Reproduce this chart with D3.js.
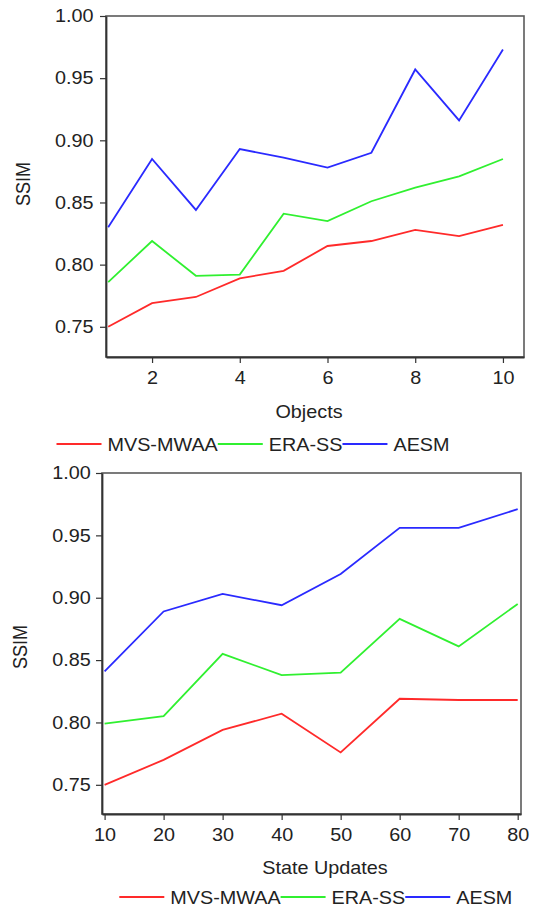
<!DOCTYPE html>
<html>
<head>
<meta charset="utf-8">
<script src="https://cdn.jsdelivr.net/npm/d3@7"></script>
<style>
  html, body { margin: 0; padding: 0; background: #fff; }
  text { font-family: "Liberation Sans", Arial, sans-serif; fill: #222; }
</style>
</head>
<body>
<div id="chart"></div>
<script>
// data
var seriesNames = ["MVS-MWAA", "ERA-SS", "AESM"];
var seriesColors = ["#ff2a2a", "#30f030", "#2a2aff"];

var objects = [1, 2, 3, 4, 5, 6, 7, 8, 9, 10];
var objMvs = [0.750, 0.769, 0.774, 0.789, 0.795, 0.815, 0.819, 0.828, 0.823, 0.832];
var objEra = [0.786, 0.819, 0.791, 0.792, 0.841, 0.835, 0.851, 0.862, 0.871, 0.885];
var objAesm = [0.830, 0.885, 0.844, 0.893, 0.886, 0.878, 0.890, 0.957, 0.916, 0.973];
var objTicks = [2, 4, 6, 8, 10];

var updates = [10, 20, 30, 40, 50, 60, 70, 80];
var updMvs = [0.750, 0.770, 0.794, 0.807, 0.776, 0.819, 0.818, 0.818];
var updEra = [0.799, 0.805, 0.855, 0.838, 0.840, 0.883, 0.861, 0.895];
var updAesm = [0.841, 0.889, 0.903, 0.894, 0.919, 0.956, 0.956, 0.971];
var updTicks = [10, 20, 30, 40, 50, 60, 70, 80];

var yTicks = [0.75, 0.80, 0.85, 0.90, 0.95, 1.00];

var W = 535, H = 909;
var stretch = 1.1; // text in the picture is a bit wider than tall

var svg = d3.select("#chart")
    .append("svg")
    .attr("width", W)
    .attr("height", H);

// layout of the two panels
var panels = [
    {
        left: 106, right: 524, top: 16, bottom: 357,
        xDomain: [0.95, 10.48], yDomain: [0.7257, 1.0],
        xs: objects, series: [objMvs, objEra, objAesm], xTicks: objTicks,
        xTitle: "Objects", xTitleX: 309, xTitleY: 418,
        yTitleX: 30, yTitleY: 184, labelX: -11.3,
        legendX: 56.5, legendY: 444
    },
    {
        left: 102, right: 521, top: 473, bottom: 814,
        xDomain: [9.56, 80.56], yDomain: [0.7266, 1.0],
        xs: updates, series: [updMvs, updEra, updAesm], xTicks: updTicks,
        xTitle: "State Updates", xTitleX: 325, xTitleY: 874,
        yTitleX: 27, yTitleY: 647, labelX: -10.2,
        legendX: 119.3, legendY: 897
    }
];

panels.forEach(function (p) {
    var x = d3.scaleLinear().domain(p.xDomain).range([p.left, p.right]);
    var y = d3.scaleLinear().domain(p.yDomain).range([p.bottom, p.top]);

    // frame
    svg.append("rect")
        .attr("x", p.left)
        .attr("y", p.top)
        .attr("width", p.right - p.left)
        .attr("height", p.bottom - p.top)
        .attr("fill", "none")
        .attr("stroke", "#5a5a5a")
        .attr("stroke-width", 1.6);

    // Y axis
    var gy = svg.append("g")
        .attr("transform", "translate(" + p.left + ",0)")
        .call(d3.axisLeft(y).tickValues(yTicks).tickFormat(d3.format(".2f"))
            .tickSize(6).tickSizeOuter(0));
    gy.select(".domain").attr("stroke", "#333").attr("stroke-width", 1.8);
    gy.selectAll(".tick line").attr("stroke", "#333").attr("stroke-width", 1.2);
    gy.selectAll("text")
        .attr("x", p.labelX)
        .attr("transform", "scale(" + stretch + ",1)")
        .style("font-size", "18px")
        .style("font-family", "'Liberation Sans', Arial, sans-serif")
        .attr("fill", "#222");

    // X axis
    var gx = svg.append("g")
        .attr("transform", "translate(0," + p.bottom + ")")
        .call(d3.axisBottom(x).tickValues(p.xTicks).tickFormat(d3.format("d"))
            .tickSize(6).tickSizeOuter(0).tickPadding(8));
    gx.select(".domain").attr("stroke", "#333").attr("stroke-width", 1.8);
    gx.selectAll(".tick line").attr("stroke", "#333").attr("stroke-width", 1.2);
    gx.selectAll("text")
        .attr("transform", "scale(" + stretch + ",1)")
        .style("font-size", "18px")
        .style("font-family", "'Liberation Sans', Arial, sans-serif")
        .attr("fill", "#222");

    // axis titles
    svg.append("text")
        .attr("text-anchor", "middle")
        .attr("transform", "translate(" + p.xTitleX + "," + p.xTitleY + ") scale(" + stretch + ",1)")
        .style("font-size", "18px")
        .text(p.xTitle);

    svg.append("text")
        .attr("text-anchor", "middle")
        .attr("transform", "translate(" + p.yTitleX + "," + p.yTitleY + ") rotate(-90) scale(1," + stretch + ")")
        .style("font-size", "18px")
        .text("SSIM");

    // lines
    var line = d3.line()
        .x(function (d) { return x(d[0]); })
        .y(function (d) { return y(d[1]); });

    p.series.forEach(function (vals, i) {
        var pts = p.xs.map(function (v, j) { return [v, vals[j]]; });
        svg.append("path")
            .datum(pts)
            .attr("d", line)
            .attr("fill", "none")
            .attr("stroke", seriesColors[i])
            .attr("stroke-width", 1.8)
            .attr("stroke-linejoin", "miter");
    });

    // legend: line, label, next line right after the label
    var cursor = p.legendX;
    seriesNames.forEach(function (name, i) {
        svg.append("line")
            .attr("x1", cursor)
            .attr("x2", cursor + 45)
            .attr("y1", p.legendY)
            .attr("y2", p.legendY)
            .attr("stroke", seriesColors[i])
            .attr("stroke-width", 1.8);
        var tx = cursor + 51;
        var t = svg.append("text")
            .attr("transform", "translate(" + tx + "," + (p.legendY + 6.5) + ") scale(" + stretch + ",1)")
            .style("font-size", "18px")
            .text(name);
        cursor = tx + t.node().getComputedTextLength() * stretch;
    });
});
</script>
</body>
</html>
